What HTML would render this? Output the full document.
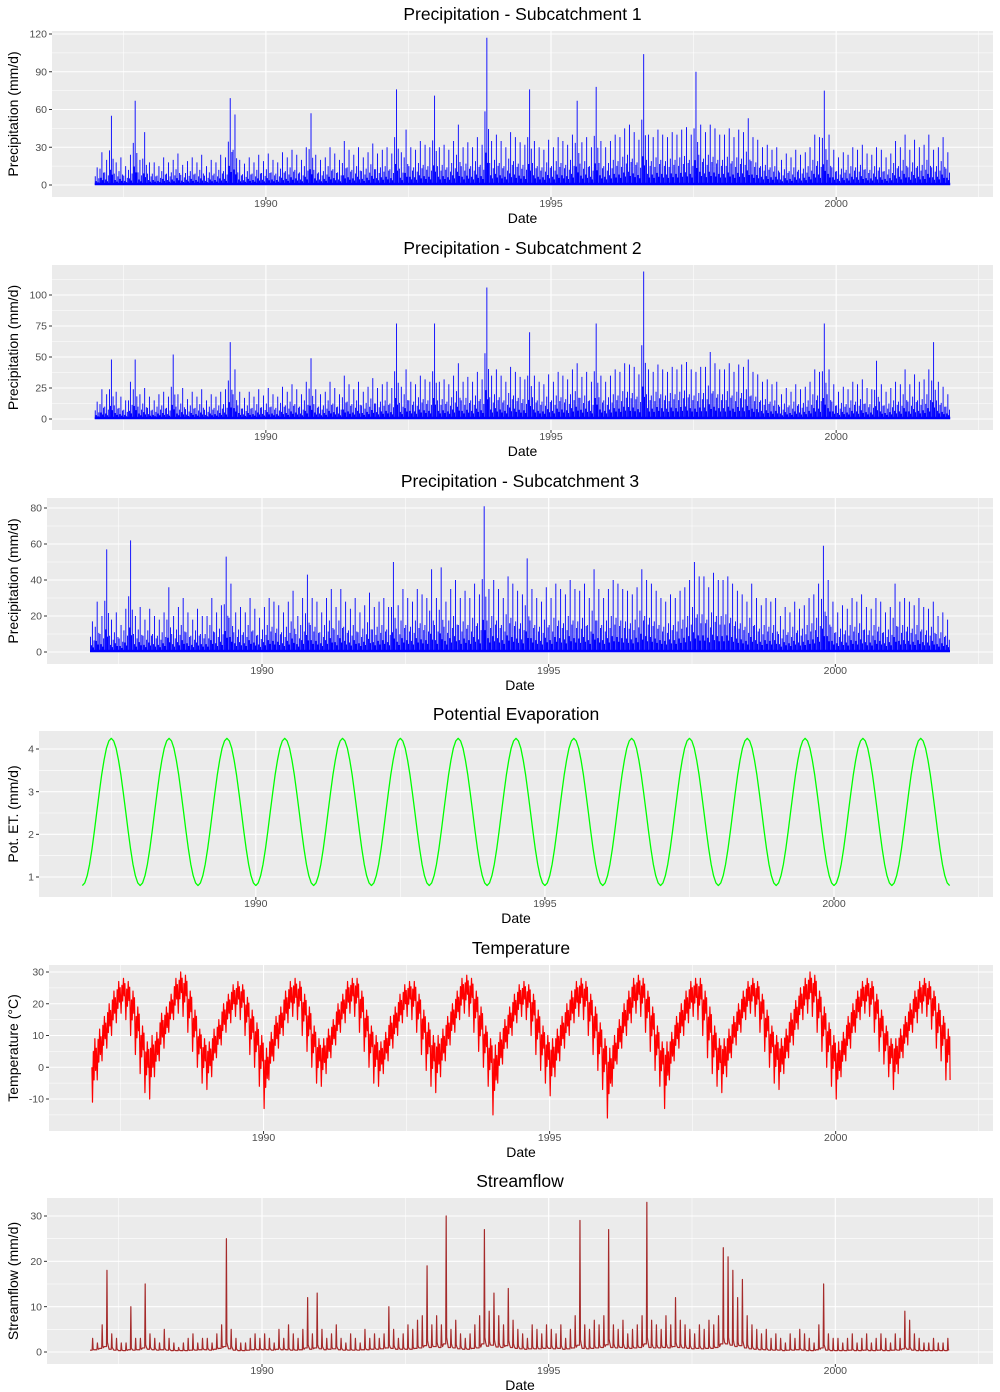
<!DOCTYPE html>
<html><head><meta charset="utf-8">
<style>
html,body{margin:0;padding:0;background:#fff;}
svg{display:block;font-family:"Liberation Sans",sans-serif;}
</style></head>
<body>
<svg id="chart" width="1000" height="1392" viewBox="0 0 1000 1392" xmlns="http://www.w3.org/2000/svg"></svg>
<script>
// ---- data (monthly summaries, 1987-01 .. 2001-12) ----
const xTickLabels = ["1990","1995","2000"];
const xTickYears = [1990,1995,2000];
const startYear = 1987;

const precip1Monthly = [
14,26,20,55,18,22,15,24,67,20,42,18,
18,15,22,18,20,25,16,19,22,18,24,15,
20,18,24,22,69,56,20,17,22,18,24,19,
25,20,18,26,22,28,24,20,30,57,24,20,
22,30,25,20,35,28,24,30,22,26,33,25,
28,30,25,76,26,44,30,28,35,32,30,71,
30,32,28,35,48,30,34,30,38,32,117,35,
40,35,30,42,38,34,32,76,35,30,28,36,
30,38,35,32,40,67,34,38,30,78,35,30,
35,40,38,45,48,42,36,104,40,38,44,40,
38,42,40,44,46,40,90,48,42,48,45,40,
40,45,38,44,42,53,38,36,30,32,28,30,
20,25,22,28,24,26,30,40,38,75,40,28,
22,26,24,30,28,32,25,24,30,28,22,25,
35,30,40,28,36,30,32,40,28,30,38,26];
const precip1Ticks = [0,30,60,90,120];

const precip2Monthly = [
14,24,20,48,22,18,15,30,48,20,25,18,
15,20,22,18,52,20,25,16,22,18,24,15,
20,18,22,24,62,40,22,17,22,18,24,19,
25,20,18,26,22,28,24,20,30,49,24,20,
22,30,25,20,35,28,24,30,22,26,33,25,
28,30,25,77,26,40,30,28,35,32,30,77,
30,32,28,35,45,30,34,30,38,32,106,35,
40,35,30,42,38,34,32,70,35,30,28,36,
30,38,35,32,40,45,34,38,30,77,35,30,
35,40,38,45,44,42,36,119,40,38,44,40,
38,42,40,44,46,40,38,42,42,54,45,40,
40,45,38,44,42,48,38,36,30,32,28,30,
20,25,22,28,24,26,30,40,38,77,40,28,
22,26,24,30,28,32,25,24,47,28,22,25,
30,28,40,28,36,30,32,40,62,30,26,20];
const precip2Ticks = [0,25,50,75,100];

const precip3Monthly = [
17,28,20,57,18,22,15,24,62,20,25,18,
24,20,18,22,36,20,25,30,22,18,24,20,
20,30,22,26,53,38,22,25,22,30,24,19,
25,30,28,26,22,28,34,20,30,43,30,28,
22,30,35,25,35,28,24,30,22,26,33,25,
28,30,25,50,26,35,30,28,35,32,30,46,
30,47,28,35,40,30,34,30,38,32,81,35,
40,35,30,42,38,34,32,52,35,30,28,36,
30,38,35,32,40,35,34,38,30,46,35,30,
35,40,38,35,34,32,36,46,40,38,34,30,
28,32,30,34,36,40,50,42,42,36,44,40,
40,42,38,34,32,28,38,30,26,30,28,30,
20,25,22,28,24,26,30,32,38,59,40,28,
22,26,24,30,28,32,25,24,30,28,22,25,
38,28,30,28,26,30,25,24,28,20,22,18];
const precip3Ticks = [0,20,40,60,80];

// potential evaporation: half-monthly climatology (same every year)
const petHalfMonthly = [0.80,0.86,1.03,1.30,1.66,2.08,2.53,2.97,3.39,3.74,4.02,4.19,4.25,4.19,4.02,3.74,3.39,2.97,2.53,2.08,1.66,1.30,1.03,0.86];
const petTicks = [1,2,3,4];

const tempHigh = [
9,12,16,20,24,27,28,27,24,19,13,8,
10,11,17,19,23,28,30,29,24,18,12,9,
8,12,15,20,23,26,27,26,22,18,14,10,
6,11,16,19,24,27,28,27,23,19,13,9,
9,12,15,20,23,27,28,28,24,18,13,10,
8,11,16,19,23,26,27,27,23,18,14,10,
10,12,16,20,24,28,29,28,24,19,13,9,
7,11,15,19,23,26,27,26,23,18,13,10,
9,12,16,20,24,27,28,27,23,19,14,9,
6,10,15,20,24,28,29,28,24,19,13,8,
8,11,16,20,24,27,28,28,24,19,13,9,
9,12,16,20,24,27,28,27,23,18,13,10,
9,12,17,21,25,28,30,29,24,19,14,10,
8,11,16,20,24,27,28,27,23,18,13,9,
9,12,16,20,24,27,28,27,24,20,16,12];
const tempLow = [
-11,-4,2,6,10,14,17,15,10,4,-2,-8,
-10,-3,2,6,11,15,17,16,11,5,0,-5,
-7,-3,3,7,11,14,16,15,10,4,0,-6,
-13,-4,2,6,10,14,16,15,10,5,0,-5,
-6,-2,3,7,11,14,17,16,11,5,0,-5,
-6,-2,2,6,10,14,16,15,11,4,-1,-6,
-8,-3,2,7,11,15,17,16,11,5,0,-6,
-15,-5,1,6,10,14,16,15,10,4,-1,-5,
-9,-3,2,6,10,14,16,15,10,4,-1,-7,
-16,-6,1,6,10,14,17,16,11,5,-1,-6,
-13,-4,2,6,10,14,16,15,10,3,-2,-6,
-8,-3,3,7,11,15,17,16,11,5,0,-5,
-7,-2,3,7,12,15,17,16,11,5,0,-6,
-10,-3,2,6,11,15,17,16,11,5,1,-3,
-7,-2,3,7,11,14,17,16,12,6,2,-4];
const tempTicks = [-10,0,10,20,30];

const flowPeak = [
3,2,6,18,4,3,2,2,10,3,3,15,
4,3,2,5,3,2,1,2,3,4,2,3,
3,2,4,6,25,5,3,2,2,3,4,3,
4,3,2,5,3,6,4,3,5,12,4,13,
5,3,4,6,3,2,4,3,2,5,3,4,
3,4,10,5,3,4,6,5,7,8,19,6,
8,6,30,5,7,4,3,4,6,8,27,9,
13,8,6,14,7,5,4,3,6,5,4,6,
5,4,6,3,5,8,29,6,5,7,6,8,
27,6,5,7,4,5,6,8,33,7,6,5,
8,6,12,7,6,5,4,6,5,7,6,8,
23,21,18,12,16,8,6,5,4,5,3,4,
3,2,4,3,5,4,3,2,6,15,4,3,
3,2,3,4,2,3,4,2,3,4,3,2,
4,3,9,7,4,3,2,2,3,2,2,3];
const flowBase = [
0.4,0.5,0.8,1.2,0.6,0.4,0.3,0.3,0.5,0.4,0.5,0.9,
0.6,0.5,0.4,0.5,0.4,0.3,0.3,0.3,0.3,0.4,0.4,0.5,
0.5,0.4,0.6,0.8,1.2,0.7,0.4,0.3,0.3,0.4,0.5,0.5,
0.5,0.5,0.4,0.6,0.5,0.5,0.4,0.4,0.5,0.9,0.6,0.9,
0.7,0.5,0.6,0.7,0.5,0.4,0.4,0.4,0.4,0.5,0.5,0.6,
0.6,0.7,0.9,0.8,0.6,0.6,0.6,0.6,0.8,0.9,1.4,1.0,
1.2,1.0,1.8,1.0,0.9,0.7,0.6,0.6,0.8,0.9,1.8,1.3,
1.5,1.1,1.0,1.4,1.0,0.8,0.7,0.6,0.7,0.7,0.7,0.8,
0.8,0.7,0.8,0.6,0.7,0.9,1.5,0.8,0.7,0.8,0.9,1.0,
1.6,1.0,0.9,1.0,0.8,0.8,0.9,1.0,1.8,1.0,0.9,0.9,
1.0,0.9,1.2,1.0,0.9,0.8,0.7,0.8,0.7,0.8,0.8,1.0,
1.8,1.8,1.5,1.2,1.4,0.9,0.7,0.6,0.5,0.5,0.4,0.4,
0.4,0.3,0.4,0.4,0.5,0.4,0.3,0.3,0.5,0.9,0.4,0.3,
0.3,0.3,0.3,0.4,0.3,0.3,0.4,0.3,0.3,0.4,0.3,0.3,
0.4,0.4,0.7,0.6,0.4,0.3,0.3,0.3,0.3,0.3,0.3,0.3];
const flowTicks = [0,10,20,30];

// ---- rendering ----
const NS = "http://www.w3.org/2000/svg";
const svg = document.getElementById("chart");
function mk(tag, attrs, parent){
  const e = document.createElementNS(NS, tag);
  for (const k in attrs) e.setAttribute(k, attrs[k]);
  (parent||svg).appendChild(e);
  return e;
}
const X0 = 1986.25, X1 = 2002.75;

function panel(cfg){
  const g = mk("g", {});
  
  
  const L = cfg.left, R = 993, T = cfg.top, B = cfg.bottom;
  const sx = t => L + (t - X0) / (X1 - X0) * (R - L);
  const sy = v => cfg.y0px + (v - cfg.y0) / (cfg.y1 - cfg.y0) * (cfg.y1px - cfg.y0px);
  const bg = mk("rect", {x:L, y:T, width:R-L, height:B-T, fill:"#EBEBEB"}, g);
  
  
  const tk = cfg.ticks;
  const step = tk[1]-tk[0];
  for (let i=-1;i<tk.length;i++){
    const v = tk[0] + (i+0.5)*step;
    const y = sy(v);
    if (y > T && y < B){
      const ln = mk("line",{x1:L,x2:R,y1:y,y2:y,stroke:"#fff","stroke-width":0.55},g);
      
      
    }
  }
  [1987.5,1992.5,1997.5,2002.5].forEach(t=>{
    const ln = mk("line",{x1:sx(t),x2:sx(t),y1:T,y2:B,stroke:"#fff","stroke-width":0.55},g);
    
    
  });
  tk.forEach(v=>{
    const y = sy(v);
    const ln = mk("line",{x1:L,x2:R,y1:y,y2:y,stroke:"#fff","stroke-width":1.1},g);
    
    
    const tm = mk("line",{x1:L-3,x2:L,y1:y,y2:y,stroke:"#333","stroke-width":1},g);
    
    
    const tx = mk("text",{x:L-5,y:y+3.6,"text-anchor":"end","font-size":"10.5",fill:"#4D4D4D"},g);
    tx.textContent = String(v);
    
    
  });
  xTickYears.forEach((t,i)=>{
    const x = sx(t);
    const ln = mk("line",{x1:x,x2:x,y1:T,y2:B,stroke:"#fff","stroke-width":1.1},g);
    
    
    const tm = mk("line",{x1:x,x2:x,y1:B,y2:B+3,stroke:"#333","stroke-width":1},g);
    
    
    const tx = mk("text",{x:x,y:B+10,"text-anchor":"middle","font-size":"10.5",fill:"#4D4D4D"},g);
    tx.textContent = xTickLabels[i];
    
    
  });
  const ti = mk("text",{x:(L+R)/2,y:T-11,"text-anchor":"middle","font-size":"17.5",fill:"#000"},g);
  ti.textContent = cfg.title;
  
  
  const xt = mk("text",{x:(L+R)/2,y:B+26,"text-anchor":"middle","font-size":"14",fill:"#000"},g);
  xt.textContent = "Date";
  
  
  const yt = mk("text",{x:0,y:0,"text-anchor":"middle","font-size":"14",fill:"#000",transform:`translate(18,${(T+B)/2}) rotate(-90)`},g);
  yt.textContent = cfg.ytitle;
  
  
  const layer = mk("g",{},g);
  
  
  cfg.draw(layer, sx, sy);
}

function drawPrecip(vals){
  return function(g, sx, sy){
    let d = "";
    const y0 = sy(0);
    const n = vals.length;
    for (let i=0;i<n;i++){
      const t = startYear + i/12;
      const v = vals[i];
      d += `M${sx(t+0.5/12)},${y0}V${sy(v)}`;
      d += `M${sx(t+0.1/12)},${y0}V${sy(v*0.5)}`;
      d += `M${sx(t+0.85/12)},${y0}V${sy(v*0.38)}`;
      d += `M${sx(t+0.3/12)},${y0}V${sy(v*0.22)}`;
      d += `M${sx(t+0.68/12)},${y0}V${sy(v*0.15)}`;
    }
    const p = mk("path",{d:d,stroke:"#0000FF","stroke-width":0.9,fill:"none"},g);
    
    
    const bl = mk("line",{x1:sx(startYear),x2:sx(startYear+n/12),y1:y0-1,y2:y0-1,stroke:"#0000FF","stroke-width":2.5},g);
    
    
  };
}

panel({name:"precip-subcatchment-1-panel",title:"Precipitation - Subcatchment 1",ytitle:"Precipitation (mm/d)",left:52,top:31,bottom:197,y0:0,y0px:185,y1:120,y1px:34,ticks:precip1Ticks,draw:drawPrecip(precip1Monthly)});
panel({name:"precip-subcatchment-2-panel",title:"Precipitation - Subcatchment 2",ytitle:"Precipitation (mm/d)",left:52,top:265,bottom:430,y0:0,y0px:419,y1:100,y1px:295,ticks:precip2Ticks,draw:drawPrecip(precip2Monthly)});
panel({name:"precip-subcatchment-3-panel",title:"Precipitation - Subcatchment 3",ytitle:"Precipitation (mm/d)",left:47,top:498,bottom:664,y0:0,y0px:652,y1:80,y1px:508,ticks:precip3Ticks,draw:drawPrecip(precip3Monthly)});

panel({name:"potential-evaporation-panel",title:"Potential Evaporation",ytitle:"Pot. ET. (mm/d)",left:39,top:731,bottom:897,y0:1,y0px:877,y1:4,y1px:749,ticks:petTicks,draw:function(g,sx,sy){
  let d = "";
  const years = 15;
  for (let y=0;y<years;y++){
    for (let k=0;k<petHalfMonthly.length;k++){
      const t = startYear + y + k/24;
      d += (d?"L":"M") + sx(t) + "," + sy(petHalfMonthly[k]);
    }
  }
  d += "L" + sx(startYear+years) + "," + sy(petHalfMonthly[0]);
  const p = mk("path",{d:d,stroke:"#00FF00","stroke-width":1.3,fill:"none","stroke-linejoin":"round"},g);
  
  
}});

panel({name:"temperature-panel",title:"Temperature",ytitle:"Temperature (°C)",left:49,top:965,bottom:1131,y0:-10,y0px:1099,y1:30,y1px:972,ticks:tempTicks,draw:function(g,sx,sy){
  let d = `M${sx(startYear)},${sy(0)}`;
  for (let i=0;i<tempHigh.length;i++){
    const t = startYear + i/12;
    const hi = tempHigh[i], lo = tempLow[i];
    const mid = (hi+lo)/2;
    d += `L${sx(t+0.12/12)},${sy(lo)}L${sx(t+0.3/12)},${sy(mid+(hi-mid)*0.6)}L${sx(t+0.45/12)},${sy(mid-(mid-lo)*0.3)}L${sx(t+0.62/12)},${sy(hi)}L${sx(t+0.78/12)},${sy(mid)}L${sx(t+0.92/12)},${sy(mid+(hi-mid)*0.7)}`;
  }
  d += `L${sx(startYear+15)},${sy(-4)}`;
  const p = mk("path",{d:d,stroke:"#FF0000","stroke-width":1.2,fill:"none","stroke-linejoin":"round"},g);
  
  
}});

panel({name:"streamflow-panel",title:"Streamflow",ytitle:"Streamflow (mm/d)",left:47,top:1198,bottom:1364,y0:0,y0px:1352,y1:30,y1px:1216,ticks:flowTicks,draw:function(g,sx,sy){
  let d = "";
  for (let i=0;i<flowPeak.length;i++){
    const t = startYear + i/12;
    const b = flowBase[i], pk = flowPeak[i];
    d += (d?"L":"M") + `${sx(t)},${sy(b)}L${sx(t+0.45/12)},${sy(b)}L${sx(t+0.55/12)},${sy(pk)}L${sx(t+0.65/12)},${sy(b*1.8)}L${sx(t+0.8/12)},${sy(b*1.2)}`;
  }
  const p = mk("path",{d:d,stroke:"#A52A2A","stroke-width":1.2,fill:"none","stroke-linejoin":"round"},g);
  
  
}});
</script>
</body></html>
